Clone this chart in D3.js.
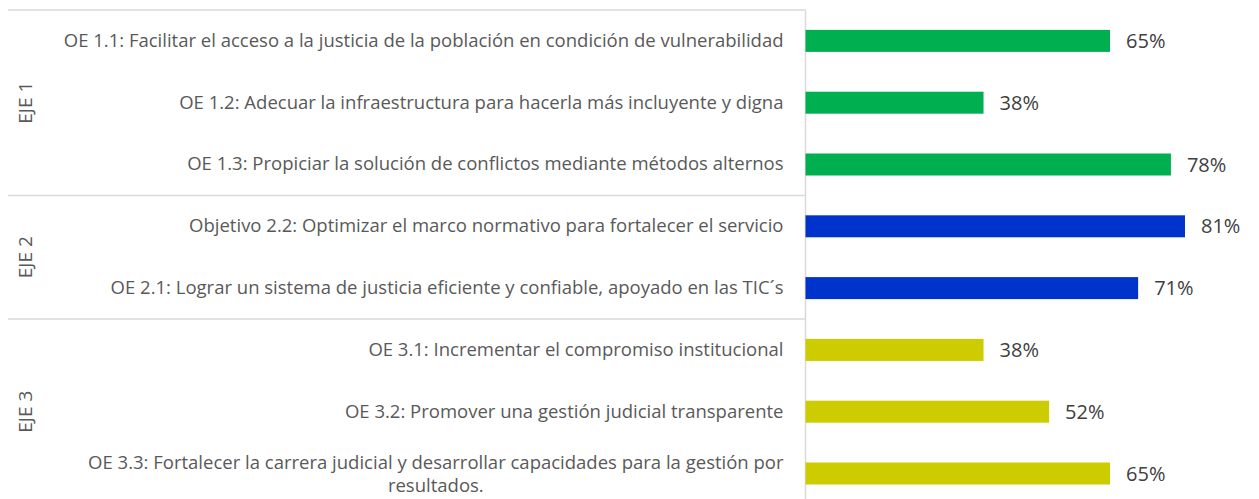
<!DOCTYPE html>
<meta charset="utf-8">
<style>
body { margin: 0; background: #fff; }
svg { font-family: "Open Sans", sans-serif; }
.axis text { fill: #595959; font-size: 18.5px; font-family: "Open Sans", sans-serif; }
.grid line { stroke: #d9d9d9; stroke-width: 1.5; }
.pct { fill: #404040; font-size: 20px; }
.eje { fill: #595959; font-size: 19px; }
</style>
<body>
<script src="https://cdn.jsdelivr.net/npm/d3@7"></script>
<script>
// categories, top to bottom
var labels = [
  "OE 1.1: Facilitar el acceso a la justicia de la población en condición de vulnerabilidad",
  "OE 1.2: Adecuar la infraestructura para hacerla más incluyente y digna",
  "OE 1.3: Propiciar la solución de conflictos mediante métodos alternos",
  "Objetivo 2.2: Optimizar el marco normativo para fortalecer el servicio",
  "OE 2.1: Lograr un sistema de justicia eficiente y confiable, apoyado en las TIC´s",
  "OE 3.1: Incrementar el compromiso institucional",
  "OE 3.2: Promover una gestión judicial transparente",
  "OE 3.3: Fortalecer la carrera judicial y desarrollar capacidades para la gestión por resultados."
];
var values = [0.65, 0.38, 0.78, 0.81, 0.71, 0.38, 0.52, 0.65];
var groupOf = [0, 0, 0, 1, 1, 2, 2, 2];
var groups = ["EJE 1", "EJE 2", "EJE 3"];
var groupColors = ["#00b050", "#0033cc", "#cccc00"];

var W = 1259, H = 499;
var margin = {top: 10, left: 805.5};
var step = 61.8;

var svg = d3.select("body").append("svg")
    .attr("width", W)
    .attr("height", H);

var y = d3.scaleBand()
    .domain(d3.range(labels.length))
    .range([margin.top, margin.top + step * labels.length])
    .paddingInner(0.644)
    .paddingOuter(0.322);

var x = d3.scaleLinear()
    .domain([0, 1])
    .range([margin.left, margin.left + 468.5]);

// group separators (left of the axis)
var bounds = [0];
groupOf.forEach(function(g, i) { if (i > 0 && g !== groupOf[i - 1]) bounds.push(i); });
bounds.push(labels.length);

svg.append("g").attr("class", "grid")
  .selectAll("line")
    .data(bounds)
  .enter().append("line")
    .attr("x1", 8)
    .attr("x2", margin.left)
    .attr("y1", function(k) { return margin.top + y.step() * k; })
    .attr("y2", function(k) { return margin.top + y.step() * k; });

// vertical axis line
svg.append("line")
    .attr("x1", margin.left).attr("x2", margin.left)
    .attr("y1", margin.top).attr("y2", H + 10)
    .attr("stroke", "#d9d9d9")
    .attr("stroke-width", 1.5);

// category axis
var axis = svg.append("g")
    .attr("class", "axis")
    .attr("transform", "translate(" + margin.left + ",0)")
    .call(d3.axisLeft(y).tickSize(0).tickPadding(22).tickFormat(function(i) { return labels[i]; }));
axis.attr("font-family", null).attr("font-size", null);
axis.select(".domain").remove();

// wrap the long last label into two centred lines
axis.selectAll(".tick text").each(function(i) {
  var t = d3.select(this);
  if (i !== labels.length - 1) return;
  var words = labels[i].split(" ");
  var first = words.slice(0, -1).join(" "), second = words[words.length - 1];
  t.text(null).attr("text-anchor", "middle");
  var l1 = t.append("tspan").text(first);
  var w = l1.node().getComputedTextLength();
  var cx = -22 - w / 2;
  l1.attr("x", cx).attr("dy", "-0.23em");
  t.append("tspan").text(second).attr("x", cx).attr("dy", "1.25em");
});

// bars
svg.selectAll(".bar")
    .data(values)
  .enter().append("rect")
    .attr("class", "bar")
    .attr("x", x(0))
    .attr("y", function(d, i) { return y(i); })
    .attr("width", function(d) { return x(d) - x(0); })
    .attr("height", y.bandwidth())
    .attr("fill", function(d, i) { return groupColors[groupOf[i]]; });

// value labels
svg.selectAll(".pct")
    .data(values)
  .enter().append("text")
    .attr("class", "pct")
    .attr("x", function(d) { return x(d) + 16; })
    .attr("y", function(d, i) { return y(i) + y.bandwidth() / 2; })
    .attr("dy", "0.35em")
    .text(function(d) { return d3.format(".0%")(d); });

// group labels, rotated
svg.selectAll(".eje")
    .data(groups)
  .enter().append("text")
    .attr("class", "eje")
    .attr("text-anchor", "middle")
    .attr("transform", function(g, k) {
      var yc = margin.top + y.step() * (bounds[k] + bounds[k + 1]) / 2;
      return "translate(32," + yc + ") rotate(-90)";
    })
    .text(function(g) { return g; });
</script>
</body>
